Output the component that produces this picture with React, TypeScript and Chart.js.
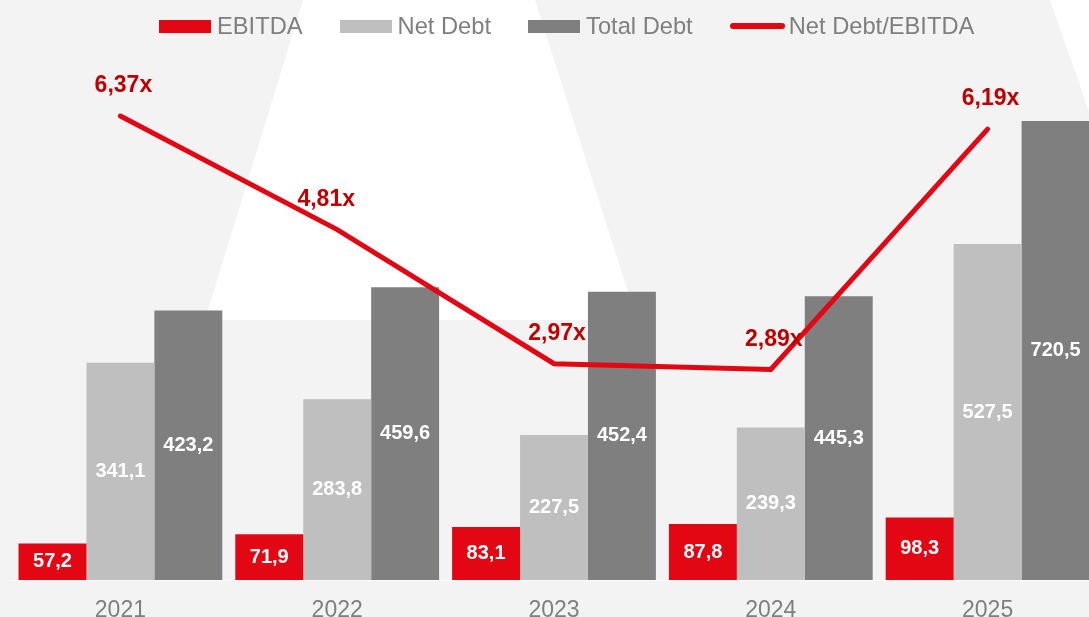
import React, { useEffect, useRef } from "react";
import { Chart, registerables } from "chart.js";

Chart.register(...registerables);

// ---- data ----
const years = ["2021", "2022", "2023", "2024", "2025"];
const ebitda = [57.2, 71.9, 83.1, 87.8, 98.3];
const netDebt = [341.1, 283.8, 227.5, 239.3, 527.5];
const totalDebt = [423.2, 459.6, 452.4, 445.3, 720.5];
const leverage = [6.37, 4.81, 2.97, 2.89, 6.19];

const seriesNames = ["EBITDA", "Net Debt", "Total Debt", "Net Debt/EBITDA"];

// ---- styles ----
const RED = "#e30613";
const LIGHT = "#bfbfbf";
const DARK = "#7f7f7f";
const LABEL_RED = "#c00000";
const TEXT_GRAY = "#7f7f7f";
const BG = "#f3f3f3";
const FONT = '"Liberation Sans", Arial, Helvetica, sans-serif';
const lineLabelDx = [0, -14, 0, 0, 0];

const fmtNum = (v: number) => v.toFixed(1).replace(".", ",");
const fmtRatio = (v: number) => v.toFixed(2).replace(".", ",") + "x";

const backgroundPlugin = {
  id: "bgShape",
  beforeDraw(chart: any) {
    const { ctx, width, height } = chart;
    ctx.save();
    ctx.fillStyle = BG;
    ctx.fillRect(0, 0, width, height);
    ctx.fillStyle = "#ffffff";
    ctx.beginPath();
    ctx.moveTo(303, 0);
    ctx.lineTo(535, 0);
    ctx.lineTo(637, 320);
    ctx.lineTo(205, 320);
    ctx.closePath();
    ctx.fill();
    ctx.beginPath();
    ctx.moveTo(1050, 0);
    ctx.lineTo(1300, 0);
    ctx.lineTo(1300, 320);
    ctx.lineTo(1162, 320);
    ctx.closePath();
    ctx.fill();
    ctx.restore();
  },
};

const labelsPlugin = {
  id: "valueLabels",
  afterDatasetsDraw(chart: any) {
    const ctx = chart.ctx;
    ctx.save();
    ctx.textAlign = "center";
    ctx.textBaseline = "middle";
    chart.data.datasets.forEach((ds: any, di: number) => {
      const meta = chart.getDatasetMeta(di);
      if (meta.hidden) return;
      if (ds.type === "line") {
        ctx.font = `bold 23px ${FONT}`;
        ctx.fillStyle = LABEL_RED;
        meta.data.forEach((pt: any, i: number) => {
          ctx.fillText(fmtRatio(ds.data[i]), pt.x + 3 + lineLabelDx[i], pt.y - 30);
        });
      } else {
        ctx.font = `bold 20px ${FONT}`;
        ctx.fillStyle = "#ffffff";
        meta.data.forEach((bar: any, i: number) => {
          const p = bar.getProps(["x", "y", "base"], true);
          ctx.fillText(fmtNum(ds.data[i]), p.x, (p.y + p.base) / 2);
        });
      }
    });
    ctx.restore();
  },
};

export default function App() {
  const ref = useRef<HTMLCanvasElement>(null);

  useEffect(() => {
    document.body.style.margin = "0";
    Chart.defaults.font.family = FONT;
    const chart = new Chart(ref.current as HTMLCanvasElement, {
      type: "bar",
      data: {
        labels: years,
        datasets: [
          {
            type: "line",
            label: seriesNames[3],
            data: leverage,
            yAxisID: "y1",
            borderColor: RED,
            backgroundColor: RED,
            borderWidth: 5,
            pointRadius: 0,
            borderCapStyle: "round",
            borderJoinStyle: "miter",
            tension: 0,
            order: 0,
            clip: false,
          } as any,
          {
            type: "bar",
            label: seriesNames[0],
            data: ebitda,
            backgroundColor: RED,
            yAxisID: "y",
            order: 1,
          },
          {
            type: "bar",
            label: seriesNames[1],
            data: netDebt,
            backgroundColor: LIGHT,
            yAxisID: "y",
            order: 1,
          },
          {
            type: "bar",
            label: seriesNames[2],
            data: totalDebt,
            backgroundColor: DARK,
            yAxisID: "y",
            order: 1,
          },
        ],
      },
      options: {
        responsive: false,
        animation: false,
        layout: { padding: { left: 12, right: 0, top: 0, bottom: 0 } },
        datasets: { bar: { categoryPercentage: 0.94, barPercentage: 1 } } as any,
        plugins: {
          legend: { display: false },
          tooltip: { enabled: false },
        },
        scales: {
          x: {
            grid: { display: false, drawTicks: false },
            border: { display: true, color: "rgba(255,255,255,0.7)", width: 1 },
            ticks: { color: TEXT_GRAY, font: { family: FONT, size: 23 }, padding: 17 },
            afterFit: (s: any) => {
              s.height = 40;
            },
          },
          y: { display: false, min: 0, max: 910.5 },
          y1: { display: false, min: 0, max: 7.963, position: "right" },
        },
      } as any,
      plugins: [backgroundPlugin, labelsPlugin],
    });
    return () => chart.destroy();
  }, []);

  const box = (color: string) => (
    <span style={{ display: "inline-block", width: 52, height: 13, background: color, marginRight: 6 }} />
  );

  return (
    <div
      style={{
        position: "fixed",
        left: 0,
        top: 0,
        width: 1089,
        height: 617,
        overflow: "hidden",
        background: BG,
      }}
    >
      <canvas
        ref={ref}
        width={1096}
        height={620}
        style={{ display: "block", position: "absolute", left: 0, top: 0 }}
      />
      <div
        style={{
          position: "absolute",
          top: 13,
          left: 159,
          height: 26,
          display: "flex",
          alignItems: "center",
          gap: 37,
          fontFamily: FONT,
          fontSize: 23.7,
          lineHeight: "26px",
          color: TEXT_GRAY,
          whiteSpace: "nowrap",
        }}
      >
        <span style={{ display: "flex", alignItems: "center" }}>
          {box(RED)}
          {seriesNames[0]}
        </span>
        <span style={{ display: "flex", alignItems: "center" }}>
          {box(LIGHT)}
          {seriesNames[1]}
        </span>
        <span style={{ display: "flex", alignItems: "center" }}>
          {box(DARK)}
          {seriesNames[2]}
        </span>
        <span style={{ display: "flex", alignItems: "center" }}>
          <span
            style={{
              display: "inline-block",
              width: 55,
              height: 6,
              borderRadius: 3,
              background: RED,
              marginRight: 4,
            }}
          />
          {seriesNames[3]}
        </span>
      </div>
    </div>
  );
}
